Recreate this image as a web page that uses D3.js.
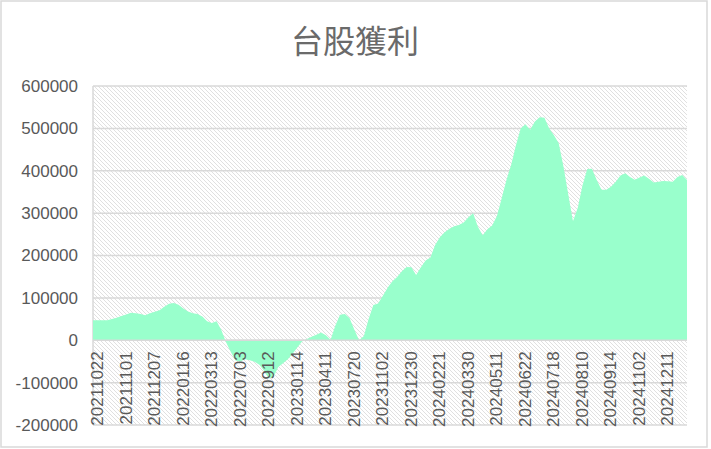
<!DOCTYPE html>
<html>
<head>
<meta charset="utf-8">
<script src="https://cdn.jsdelivr.net/npm/d3@7"></script>
<style>
  html, body { margin: 0; padding: 0; background: #fff; }
  svg { display: block; }
</style>
</head>
<body>
<div id="chart"></div>
<script>
// category labels shown on the axis (one every 6 points)
const tickLabels = [
  "20211022", "20211101", "20211207", "20220116", "20220313", "20220703",
  "20220912", "20230114", "20230411", "20230720", "20231102", "20231230",
  "20240221", "20240330", "20240511", "20240622", "20240718", "20240810",
  "20240914", "20241102", "20241211"
];
const labelEvery = 6;

// profit values
const profit = [
  47000, 47000, 47000, 47000, 50000, 53000, 57000, 61000, 65000, 64000,
  62000, 59000, 64000, 67000, 71000, 79000, 86000, 88000, 84000, 75000,
  68000, 64000, 62000, 56000, 45000, 41000, 45000, 24000, -5000, -28000,
  -48000, -50000, -45000, -47000, -51000, -58000, -72000, -90000, -86000, -63000,
  -54000, -45000, -32000, -17000, -3000, 3000, 8000, 13000, 18000, 12000,
  1000, 35000, 60000, 62000, 52000, 25000, 0, 10000, 50000, 83000,
  87000, 105000, 124000, 139000, 149000, 163000, 173000, 172000, 154000, 172000,
  188000, 195000, 225000, 243000, 255000, 263000, 269000, 272000, 278000, 290000,
  300000, 268000, 248000, 262000, 271000, 293000, 335000, 378000, 414000, 460000,
  500000, 510000, 497000, 516000, 526000, 525000, 500000, 484000, 465000, 410000,
  345000, 281000, 312000, 365000, 404000, 405000, 378000, 355000, 355000, 362000,
  374000, 389000, 394000, 385000, 379000, 384000, 389000, 381000, 372000, 374000,
  376000, 375000, 374000, 385000, 390000, 378000
];
const yTicks = [-200000, -100000, 0, 100000, 200000, 300000, 400000, 500000, 600000];

const width = 711, height = 449;
const plot = { left: 93, right: 687, top: 86, bottom: 425 };
const textColor = "#595959", gridColor = "#d9d9d9";

const svg = d3.select("#chart").append("svg")
    .attr("width", width)
    .attr("height", height);

// hatch for the plot area
const defs = svg.append("defs");
const pattern = defs.append("pattern")
    .attr("id", "hatch")
    .attr("patternUnits", "userSpaceOnUse")
    .attr("width", 4)
    .attr("height", 4);
pattern.append("rect").attr("width", 4).attr("height", 4).attr("fill", "#fff");
pattern.append("path")
    .attr("d", "M-1,-1 L5,5 M-1,3 L1,5 M3,-1 L5,1")
    .attr("stroke", "#dcdcdc")
    .attr("stroke-width", 0.9);

// outer chart border
svg.append("rect")
    .attr("x", 1).attr("y", 1)
    .attr("width", 706).attr("height", 446)
    .attr("fill", "#fff")
    .attr("stroke", gridColor)
    .attr("stroke-width", 1.5);

svg.append("text")
    .attr("x", 355)
    .attr("y", 53)
    .attr("text-anchor", "middle")
    .style("font-family", "'Noto Sans CJK TC', 'Noto Sans CJK SC', sans-serif")
    .style("font-size", "32px")
    .attr("fill", "#6a6a6a")
    .text("台股獲利");

const x = d3.scaleLinear()
    .domain([0, profit.length - 1])
    .range([plot.left, plot.right]);

const y = d3.scaleLinear()
    .domain([-200000, 600000])
    .range([plot.bottom, plot.top]);

svg.append("rect")
    .attr("x", plot.left)
    .attr("y", plot.top)
    .attr("width", plot.right - plot.left)
    .attr("height", plot.bottom - plot.top)
    .attr("fill", "url(#hatch)");

// horizontal gridlines
svg.append("g")
    .selectAll("line")
    .data(yTicks)
    .join("line")
    .attr("x1", plot.left)
    .attr("x2", plot.right)
    .attr("y1", d => y(d))
    .attr("y2", d => y(d))
    .attr("stroke", gridColor)
    .attr("stroke-width", 1.5);

svg.append("line")
    .attr("x1", plot.left).attr("x2", plot.left)
    .attr("y1", plot.top).attr("y2", plot.bottom)
    .attr("stroke", gridColor)
    .attr("stroke-width", 1.5);

const area = d3.area()
    .x((d, i) => x(i))
    .y0(y(0))
    .y1(d => y(d));

svg.append("path")
    .datum(profit)
    .attr("d", area)
    .attr("fill", "#99ffcc");

// category axis sits on the zero line
svg.append("line")
    .attr("x1", plot.left).attr("x2", plot.right)
    .attr("y1", y(0)).attr("y2", y(0))
    .attr("stroke", gridColor)
    .attr("stroke-width", 1.5);

// y axis labels
svg.append("g")
    .selectAll("text")
    .data(yTicks)
    .join("text")
    .attr("x", 78)
    .attr("y", d => y(d))
    .attr("dy", "0.35em")
    .attr("text-anchor", "end")
    .style("font-family", "'Liberation Sans', Arial, sans-serif")
    .style("font-size", "17px")
    .attr("fill", textColor)
    .text(d => d.toString());

// rotated category labels
svg.append("g")
    .selectAll("text")
    .data(tickLabels)
    .join("text")
    .attr("transform", (d, i) => `translate(${x(i * labelEvery)}, ${y(0) + 11}) rotate(-90)`)
    .attr("dy", "0.6em")
    .attr("text-anchor", "end")
    .style("font-family", "'Liberation Sans', Arial, sans-serif")
    .style("font-size", "17px")
    .attr("fill", textColor)
    .text(d => d);
</script>
</body>
</html>
